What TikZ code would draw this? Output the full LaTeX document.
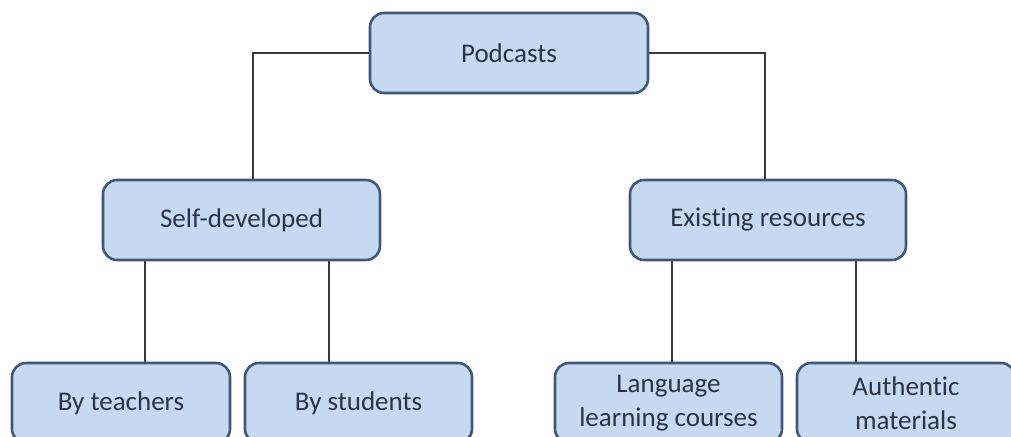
\documentclass[tikz,border=0pt]{standalone}
\usepackage{fontspec}
\setmainfont[Ligatures=NoCommon]{Carlito}
\definecolor{boxfill}{HTML}{C6D9F1}
\definecolor{boxdraw}{HTML}{41587C}
\definecolor{txt}{HTML}{2B3445}
\definecolor{conn}{HTML}{3A3A3A}
\begin{document}
\begin{tikzpicture}[x=1pt,y=-1pt,
  box/.style={draw=boxdraw,line width=2.6pt,fill=boxfill,rounded corners=14pt,
    text=txt,font=\fontsize{27}{34}\selectfont,align=center,inner sep=0pt},
  conn/.style={draw=conn,line width=1.2pt}]
\useasboundingbox (0,0) rectangle (1011,436);
\coordinate (cl) at (253,53);
\coordinate (cr) at (765,53);
\draw[conn] (509,53) coordinate (pc) -- (cl) -- (253,220);
\draw[conn] (pc) -- (cr) -- (765,220);
\draw[conn] (145,220) -- (145,403);
\draw[conn] (329,220) -- (329,403);
\draw[conn] (672,220) -- (672,403);
\draw[conn] (856,220) -- (856,403);
\node[box,minimum width=278pt,minimum height=80pt] (pod) at (509,53) {Podcasts};
\node[box,minimum width=277pt,minimum height=80pt] (self) at (241.5,220) {Self-developed};
\node[box,minimum width=276pt,minimum height=80pt] (exist) at (768,220) {Existing resources};
\node[box,minimum width=218pt,minimum height=80pt] (teach) at (121,403) {By teachers};
\node[box,minimum width=227pt,minimum height=80pt] (stud) at (358.5,403) {By students};
\node[box,minimum width=227pt,minimum height=80pt] (lang) at (668.5,403) {Language\\learning courses};
\node[box,minimum width=218pt,minimum height=80pt] (auth) at (906,403) {Authentic\\materials};
\end{tikzpicture}
\end{document}
